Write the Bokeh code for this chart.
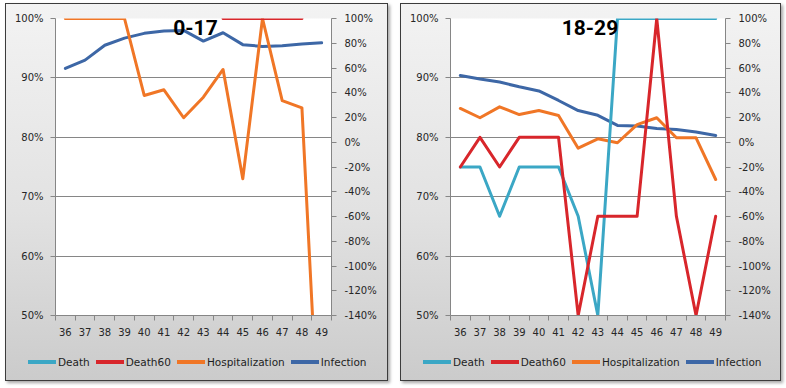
from bokeh.plotting import figure
from bokeh.models import (Range1d, LinearAxis, FixedTicker, PrintfTickFormatter,
                          Label, Div)
from bokeh.layouts import row, column
from bokeh.embed import file_html
from bokeh.resources import INLINE

nan = float("nan")

weeks = [36, 37, 38, 39, 40, 41, 42, 43, 44, 45, 46, 47, 48, 49]
left_ticks = [50, 60, 70, 80, 90, 100]
right_ticks = [-140, -120, -100, -80, -60, -40, -20, 0, 20, 40, 60, 80, 100]
series_names = ["Death", "Death60", "Hospitalization", "Infection"]

# Age 0-17 (Death, Death60, Infection on left axis; Hospitalization on right axis)
death_0_17 = [nan, nan, nan, nan, nan, nan, nan, nan, nan, nan, nan, nan, nan, nan]
death60_0_17 = [nan, nan, nan, nan, nan, nan, nan, nan, 100, 100, 100, 100, 100, nan]
hosp_0_17 = [100, 100, 100, 100, 37.8, 42.4, 19.8, 36.4, 58.8, -29.5, 100, 33.7, 27.8, -285]
inf_0_17 = [91.6, 93.0, 95.5, 96.7, 97.5, 97.9, 98.0, 96.2, 97.6, 95.6, 95.3, 95.4, 95.7, 95.9]

# Age 18-29
death_18_29 = [75, 75, 66.7, 75, 75, 75, 66.7, 50, 100, 100, 100, 100, 100, 100]
death60_18_29 = [75, 80, 75, 80, 80, 80, 50, 66.7, 66.7, 66.7, 100, 66.7, 50, 66.7]
hosp_18_29 = [27.3, 19.8, 28.6, 22.4, 25.7, 21.6, -4.8, 2.8, -0.4, 14.3, 19.8, 3.6, 3.6, -30.1]
inf_18_29 = [90.4, 89.8, 89.3, 88.5, 87.8, 86.2, 84.5, 83.7, 82.0, 81.9, 81.5, 81.3, 80.9, 80.3]

C_DEATH = "#3ba7c5"
C_DEATH60 = "#d8262b"
C_HOSP = "#f07626"
C_INF = "#3d67a6"
COLORS = [C_DEATH, C_DEATH60, C_HOSP, C_INF]
AX = "#868686"
TXT = "#262626"
FONT = "DejaVu Sans"


def style_axis(ax):
    ax.axis_line_color = AX
    ax.major_tick_line_color = AX
    ax.major_tick_in = 0
    ax.major_tick_out = 5
    ax.minor_tick_line_color = None
    ax.major_label_text_font = FONT
    ax.major_label_text_font_size = "10px"
    ax.major_label_text_color = TXT


def legend_div(width, pad_left):
    parts = []
    for name, col in zip(series_names, COLORS):
        parts.append(
            '<span style="display:inline-flex;align-items:center;margin-right:6px;">'
            f'<span style="display:inline-block;width:28px;height:4px;background:{col};'
            'margin-right:2px;"></span>'
            f'{name}</span>')
    html = (f'<div style="width:{width}px;height:36px;box-sizing:border-box;'
            f'padding-left:{pad_left}px;padding-top:9px;white-space:nowrap;'
            f"font-family:'{FONT}';font-size:10.5px;line-height:13px;color:#1e1e1e;\">"
            + "".join(parts) + '</div>')
    return Div(text=html, width=width, height=36, margin=0)


def panel(title, death, death60, hosp, inf, bl, fw, br, legend_x):
    total_w = bl + fw + br
    p = figure(frame_width=fw, frame_height=297,
               x_range=Range1d(35.5, 49.5), y_range=Range1d(50, 100),
               min_border_left=bl, min_border_right=br,
               min_border_top=15, min_border_bottom=30,
               toolbar_location=None, output_backend="svg")
    p.border_fill_color = None
    p.background_fill_color = "white"
    p.outline_line_color = None
    p.extra_y_ranges = {"r": Range1d(-140, 100)}

    # x axis: labels at category centers, ticks at category boundaries
    xa = p.xaxis[0]
    xa.ticker = FixedTicker(ticks=weeks, minor_ticks=[w - 0.5 for w in weeks] + [weeks[-1] + 0.5])
    style_axis(xa)
    xa.major_tick_line_color = None
    xa.minor_tick_line_color = AX
    xa.minor_tick_in = 0
    xa.minor_tick_out = 5
    xa.major_label_standoff = 7

    ya = p.yaxis[0]
    ya.ticker = FixedTicker(ticks=left_ticks)
    ya.formatter = PrintfTickFormatter(format="%d%%")
    style_axis(ya)
    ya.major_label_standoff = 7

    ra = LinearAxis(y_range_name="r", ticker=FixedTicker(ticks=right_ticks),
                    formatter=PrintfTickFormatter(format="%d%%"))
    style_axis(ra)
    ra.major_label_standoff = 8
    p.add_layout(ra, "right")

    p.xgrid.grid_line_color = None
    p.ygrid.ticker = FixedTicker(ticks=left_ticks)
    p.ygrid.grid_line_color = AX
    p.ygrid.grid_line_width = 1

    kw = dict(line_width=3, line_join="round", line_cap="round")
    p.line(weeks, inf, line_color=C_INF, **kw)
    p.line(weeks, hosp, line_color=C_HOSP, y_range_name="r", **kw)
    p.line(weeks, death, line_color=C_DEATH, **kw)
    p.line(weeks, death60, line_color=C_DEATH60, **kw)

    lab = Label(x=42.6, y=100, y_offset=-1, text=title, text_align="center",
                text_baseline="top",
                text_font="Roboto", text_font_style="bold", text_font_size="21px",
                text_color="black")
    p.add_layout(lab)

    c = column(p, legend_div(total_w, legend_x), spacing=0)
    c.styles = {
        "background": "linear-gradient(to bottom, #f3f3f3 0%, #e2e2e2 55%, #cbcbcb 100%)",
        "outline": "1px solid #3c3c3c",
        "outline-offset": "-1px",
        "box-shadow": "2px 2px 3px rgba(0,0,0,0.35)",
    }
    return c


c1 = panel("0-17", death_0_17, death60_0_17, hosp_0_17, inf_0_17, 50, 276, 57, 23)
c2 = panel("18-29", death_18_29, death60_18_29, hosp_18_29, inf_18_29, 50, 275, 56, 23)

layout = row(c1, c2, spacing=12, margin=(3, 0, 0, 5))
open("out.html", "w").write(file_html(layout, INLINE))
